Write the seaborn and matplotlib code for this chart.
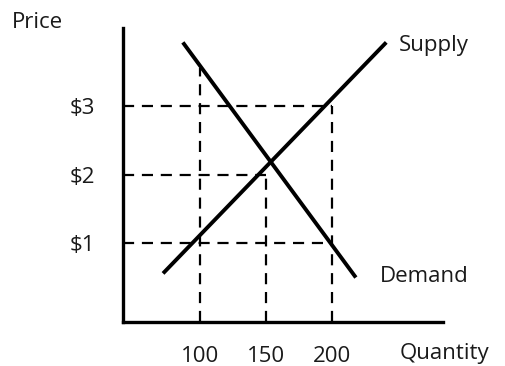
import matplotlib.pyplot as plt
import seaborn as sns
import pandas as pd

# curve end points (quantity, price)
supply_q = [72, 241]
supply_p = [0.56, 3.93]
demand_q = [87, 218]
demand_p = [3.93, 0.50]

quantities = [100, 150, 200]
qty_labels = ["100", "150", "200"]
prices = [1, 2, 3]
price_labels = ["$1", "$2", "$3"]
# how far each guide line runs (horizontal to q, vertical up to price)
h_guide_end = [200, 150, 200]
v_guide_top = [3.55, 2, 3]


def draw_chart() -> None:
    sns.set_style("white")
    plt.rcParams["font.family"] = ["Open Sans", "DejaVu Sans"]
    fig = plt.figure(figsize=(5.05, 3.66), dpi=100)
    ax = fig.add_axes([0.2436, 0.12, 0.6337, 0.8035])
    xmin, xmax = 41.7, 284
    ymin, ymax = -0.15, 4.14

    curves = pd.concat([
        pd.DataFrame({"q": supply_q, "p": supply_p, "curve": "Supply"}),
        pd.DataFrame({"q": demand_q, "p": demand_p, "curve": "Demand"}),
    ])
    sns.lineplot(data=curves, x="q", y="p", units="curve", estimator=None,
                 color="black", linewidth=2.8, sort=False, ax=ax,
                 solid_capstyle="butt")

    # dashed guides
    dash = dict(color="black", linewidth=1.6, linestyle=(0, (5, 3.5)))
    for p, end in zip(prices, h_guide_end):
        ax.plot([xmin, end], [p, p], **dash)
    for q, top in zip(quantities, v_guide_top):
        ax.plot([q, q], [ymin, top], **dash)

    ax.set_xlim(xmin, xmax)
    ax.set_ylim(ymin, ymax)
    for side in ["top", "right"]:
        ax.spines[side].set_visible(False)
    for side in ["left", "bottom"]:
        ax.spines[side].set_linewidth(2.4)
        ax.spines[side].set_color("black")

    fs = 16
    col = "#1a1a1a"
    ax.set_xticks(quantities)
    ax.set_xticklabels(qty_labels)
    ax.set_yticks(prices)
    ax.set_yticklabels(price_labels)
    ax.tick_params(axis="x", length=0, pad=17, labelsize=fs, labelcolor=col)
    ax.tick_params(axis="y", length=0, pad=20, labelsize=fs, labelcolor=col)
    ax.set_xlabel("")
    ax.set_ylabel("")

    fig.text(12 / 505, 1 - 23 / 366, "Price", fontsize=fs, color=col,
             va="center", ha="left")
    fig.text(400 / 505, 1 - 353 / 366, "Quantity", fontsize=fs, color=col,
             va="center", ha="left")
    fig.text(399 / 505, 1 - 46 / 366, "Supply", fontsize=fs, color=col,
             va="center", ha="left")
    fig.text(380 / 505, 1 - 276 / 366, "Demand", fontsize=fs, color=col,
             va="center", ha="left")

    fig.savefig("out.png", dpi=100)


def main():
    draw_chart()


if __name__ == "__main__":
    main()
